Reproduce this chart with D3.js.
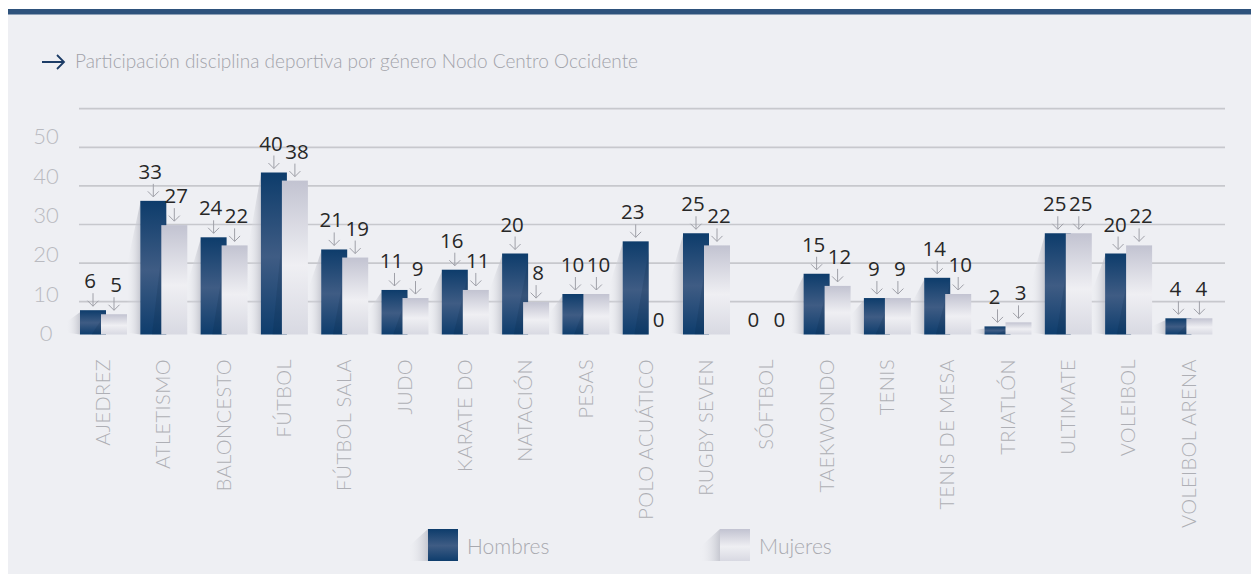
<!DOCTYPE html>
<html>
<head>
<meta charset="utf-8">
<script src="https://cdn.jsdelivr.net/npm/d3@7"></script>
<style>
  html, body { margin: 0; padding: 0; background: #ffffff; }
  svg { display: block; }
</style>
</head>
<body>
<svg id="chart" width="1251" height="574"></svg>
<script>
var categories = ["AJEDREZ", "ATLETISMO", "BALONCESTO", "FÚTBOL", "FÚTBOL SALA", "JUDO", "KARATE DO",
    "NATACIÓN", "PESAS", "POLO ACUÁTICO", "RUGBY SEVEN", "SÓFTBOL", "TAEKWONDO", "TENIS",
    "TENIS DE MESA", "TRIATLÓN", "ULTIMATE", "VOLEIBOL", "VOLEIBOL ARENA"];
var hombres = [6, 33, 24, 40, 21, 11, 16, 20, 10, 23, 25, 0, 15, 9, 14, 2, 25, 20, 4];
var mujeres = [5, 27, 22, 38, 19, 9, 11, 8, 10, 0, 22, 0, 12, 9, 10, 3, 25, 22, 4];
var yTicks = [0, 10, 20, 30, 40, 50];
var seriesNames = ["Hombres", "Mujeres"];
var title = "Participación disciplina deportiva por género Nodo Centro Occidente";

var svg = d3.select("#chart");
var width = 1251, height = 574;

// fondo y barra superior
svg.append("rect").attr("x", 8).attr("y", 9).attr("width", width - 8).attr("height", height - 9)
    .attr("fill", "#eeeff3");
svg.append("rect").attr("x", 8).attr("y", 9).attr("width", width - 8).attr("height", 5.5)
    .attr("fill", "#2e527c");

var defs = svg.append("defs");
var gH = defs.append("linearGradient").attr("id", "gradH").attr("x1", 0).attr("y1", 0).attr("x2", 0).attr("y2", 1);
gH.append("stop").attr("offset", "0%").attr("stop-color", "#0d3c6b");
gH.append("stop").attr("offset", "52%").attr("stop-color", "#3f5c84");
gH.append("stop").attr("offset", "100%").attr("stop-color", "#0e3d6d");
var gM = defs.append("linearGradient").attr("id", "gradM").attr("x1", 0).attr("y1", 0).attr("x2", 0).attr("y2", 1);
gM.append("stop").attr("offset", "0%").attr("stop-color", "#c2c3d1");
gM.append("stop").attr("offset", "55%").attr("stop-color", "#efeff3");
gM.append("stop").attr("offset", "100%").attr("stop-color", "#d8d9e2");
var gS = defs.append("linearGradient").attr("id", "gradS").attr("x1", 1).attr("y1", 0).attr("x2", 0).attr("y2", 0);
gS.append("stop").attr("offset", "0%").attr("stop-color", "#b9bbc5").attr("stop-opacity", 0.75);
gS.append("stop").attr("offset", "100%").attr("stop-color", "#eeeff3").attr("stop-opacity", 0);

// titulo
svg.append("path")
    .attr("d", "M42,62 L64,62 M57,55 L64,62 L57,69")
    .attr("fill", "none").attr("stroke", "#1c3c66").attr("stroke-width", 1.8);
svg.append("text").attr("x", 75).attr("y", 68)
    .attr("font-family", "Lato").attr("font-weight", 300).attr("font-size", 19)
    .attr("fill", "#a2a3aa").text(title);

// escalas
var x = d3.scaleBand().domain(categories).range([80, 80 + 19 * 60.3]).padding(0);
var y = d3.scaleLinear().domain([0, 50]).range([334.5, 132]);
var yAxisScale = d3.scaleLinear().domain([0, 50]).range([333, 136]);
var grid = d3.scaleLinear().domain([0, 5]).range([301.7, 108.7]);
var barW = 26, offM = 21;

// lineas de fondo
svg.append("g").selectAll("line")
    .data(d3.range(6))
    .enter().append("line")
    .attr("x1", 79).attr("x2", 1225)
    .attr("y1", d => grid(d)).attr("y2", d => grid(d))
    .attr("stroke", "#c7c8cd").attr("stroke-width", 1.7);

// eje y
var yAxis = d3.axisLeft(yAxisScale).tickValues(yTicks).tickSize(0).tickPadding(0);
var gy = svg.append("g").attr("transform", "translate(46,0)").call(yAxis);
gy.select(".domain").remove();
gy.selectAll("text")
    .attr("text-anchor", "middle").attr("dy", "0.35em")
    .attr("font-family", "Lato").attr("font-weight", 300).attr("font-size", 22)
    .attr("fill", "#b9bac0");

var data = categories.map((c, i) => ({ cat: c, h: hombres[i], m: mujeres[i] }));
var groups = svg.append("g").selectAll("g")
    .data(data)
    .enter().append("g")
    .attr("transform", d => "translate(" + x(d.cat) + ",0)");

// sombra izquierda
groups.filter(d => d.h > 0).append("path")
    .attr("d", d => {
        var top = y(d.h), bot = y(0), h = bot - top;
        return "M0," + (top + 2) + " L-14," + (top + h * 0.5) + " L-14," + (bot - 2) + " L0," + bot + " Z";
    })
    .attr("fill", "url(#gradS)");

// barras hombres
groups.filter(d => d.h > 0).append("rect")
    .attr("x", 0).attr("y", d => y(d.h))
    .attr("width", barW).attr("height", d => y(0) - y(d.h))
    .attr("fill", "url(#gradH)");
groups.filter(d => d.h > 0).append("path")
    .attr("d", d => {
        var top = y(d.h), bot = y(0), h = bot - top;
        return "M" + barW + "," + (top + h * 0.1) + " L" + (barW * 0.45) + "," + bot + " L" + barW + "," + bot + " Z";
    })
    .attr("fill", "#081f3c").attr("opacity", 0.15);

// barras mujeres
groups.filter(d => d.m > 0).append("rect")
    .attr("x", offM).attr("y", d => y(d.m))
    .attr("width", barW).attr("height", d => y(0) - y(d.m))
    .attr("fill", "url(#gradM)");

// etiquetas de valor con flecha
function valueLabel(sel, key, dx, tx) {
    sel.append("text")
        .attr("x", dx + barW / 2 + tx)
        .attr("y", d => d[key] > 0 ? y(d[key]) - 22 : y(0) - 8)
        .attr("text-anchor", "middle")
        .attr("font-family", "Open Sans").attr("font-size", 20.5)
        .attr("fill", "#272727")
        .text(d => d[key]);
    sel.filter(d => d[key] > 0).append("path")
        .attr("d", d => {
            var cx = dx + barW / 2, t = y(d[key]);
            return "M" + cx + "," + (t - 17) + " L" + cx + "," + (t - 4) +
                " M" + (cx - 5.5) + "," + (t - 9.5) + " L" + cx + "," + (t - 4) + " L" + (cx + 5.5) + "," + (t - 9.5);
        })
        .attr("fill", "none").attr("stroke", "#9fa0a8").attr("stroke-width", 1);
}
valueLabel(groups, "h", 0, -3);
valueLabel(groups, "m", offM, 2);

// etiquetas eje x
var xAxis = d3.axisBottom(x).tickSize(0).tickPadding(0);
var gx = svg.append("g").attr("transform", "translate(0,359)").call(xAxis);
gx.select(".domain").remove();
gx.selectAll("text")
    .attr("transform", "rotate(-90)")
    .attr("text-anchor", "end")
    .attr("x", 0).attr("y", 0).attr("dy", "0")
    .attr("font-family", "Lato").attr("font-weight", 300).attr("font-size", 20)
    .attr("letter-spacing", 0.4)
    .attr("fill", "#aeafb5");

// leyenda
var legend = svg.append("g").selectAll("g")
    .data(seriesNames)
    .enter().append("g")
    .attr("transform", (d, i) => "translate(" + (428 + i * 292) + ",529)");
legend.append("path")
    .attr("d", "M0,0 L-20,18 L-20,32 L0,32 Z")
    .attr("fill", "url(#gradS)");
legend.append("rect")
    .attr("width", 30).attr("height", 32)
    .attr("fill", (d, i) => i === 0 ? "url(#gradH)" : "url(#gradM)");
legend.append("text")
    .attr("x", 39).attr("y", 25)
    .attr("font-family", "Lato").attr("font-weight", 300).attr("font-size", 21)
    .attr("fill", "#a8a9af")
    .text(d => d);
</script>
</body>
</html>
